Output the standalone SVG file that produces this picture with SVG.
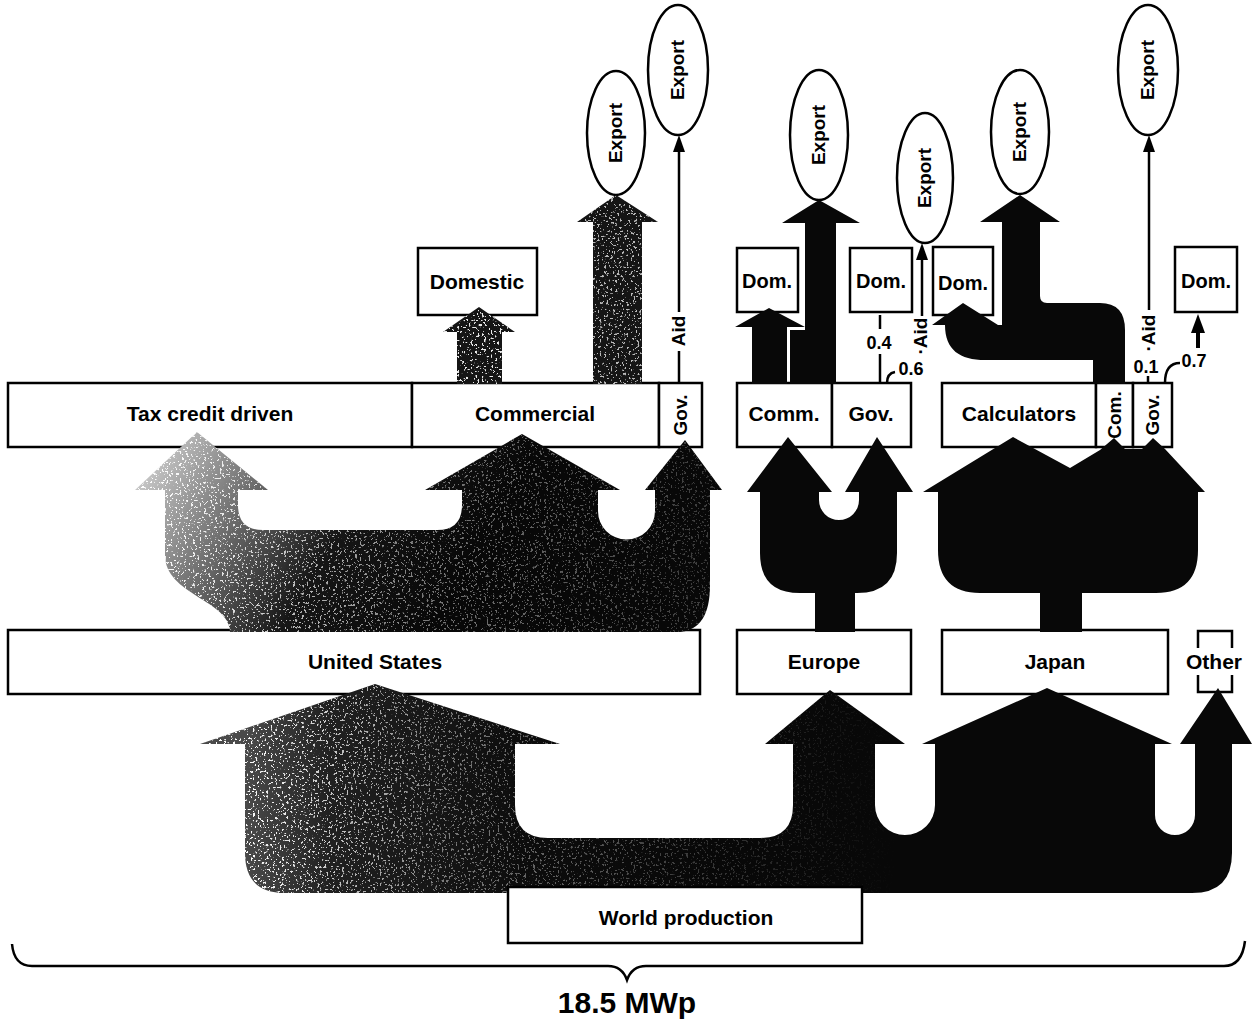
<svg xmlns="http://www.w3.org/2000/svg" xmlns:xlink="http://www.w3.org/1999/xlink" width="1254" height="1021" viewBox="0 0 1254 1021">
  <style>
    .box { fill: #fff; stroke: #000; stroke-width: 2.5; }
    .oval { fill: #fff; stroke: #000; stroke-width: 2.5; }
    .lbl { font-family: "Liberation Sans", Arial, Helvetica, sans-serif; font-weight: bold; font-size: 21px; text-anchor: middle; fill: #000; }
    .sm { font-size: 19px; }
    .dom { font-size: 20px; }
    .num { font-family: "Liberation Sans", Arial, Helvetica, sans-serif; font-weight: bold; font-size: 18px; text-anchor: middle; fill: #000; }
    .flow { fill: #080808; stroke: none; }
    .line { fill: none; stroke: #000; stroke-width: 2.5; }
    .head { fill: #000; stroke: none; }
    .total { font-family: "Liberation Sans", Arial, Helvetica, sans-serif; font-weight: bold; font-size: 30px; text-anchor: middle; fill: #000; }
  </style>
  <defs>
    <!-- flow outlines shared by the fill and the stipple layer -->
    <path id="shapeWorld" d="M200 744 L375 684 L560 744 L515 744 L515 805 Q515 838 548 838 L760 838 Q793 838 793 805 L793 744 L765 744 L830 690 L905 744 L875 744 L875 805 A30 30 0 0 0 935 805 L935 744 L922 744 L1047 688 L1172 744 L1155 744 L1155 815 A20 20 0 0 0 1195 815 L1195 744 L1180 744 L1218 688 L1252 744 L1232 744 L1232 853 Q1232 893 1192 893 L285 893 Q245 893 245 853 L245 744 Z"/>
    <path id="shapeUS" d="M230 632 C230 600 165 595 165 555 L165 490 L135 490 L197 432 L268 490 L238 490 L238 505 Q238 530 263 530 L437 530 Q462 530 462 505 L462 490 L425 490 L522 434 L620 490 L598 490 L598 511 A28.5 28.5 0 0 0 655 511 L655 490 L645 490 L685 440 L722 490 L710 490 L710 585 C710 615 700 630 680 632 Z"/>
    <path id="shapeUSDom" d="M457 384 L457 332 L443 332 L479 307 L515 332 L502 332 L502 384 Z"/>
    <path id="shapeUSExp" d="M593 384 L593 222 L577 222 L616 195 L658 222 L642 222 L642 384 Z"/>

    <!-- light-to-dark shading of the US flows -->
    <linearGradient id="usMidFill" gradientUnits="userSpaceOnUse" x1="150" y1="440" x2="440" y2="610">
      <stop offset="0" stop-color="#d2d2d2"/>
      <stop offset="0.3" stop-color="#767676"/>
      <stop offset="0.62" stop-color="#161616"/>
      <stop offset="1" stop-color="#080808"/>
    </linearGradient>
    <linearGradient id="worldFill" gradientUnits="userSpaceOnUse" x1="245" y1="0" x2="720" y2="0">
      <stop offset="0" stop-color="#4a4a4a"/>
      <stop offset="0.18" stop-color="#202020"/>
      <stop offset="0.6" stop-color="#0c0c0c"/>
      <stop offset="1" stop-color="#080808"/>
    </linearGradient>
    <linearGradient id="grainMid" gradientUnits="userSpaceOnUse" x1="140" y1="0" x2="720" y2="0">
      <stop offset="0" stop-color="#fff" stop-opacity="1"/>
      <stop offset="0.5" stop-color="#fff" stop-opacity="0.45"/>
      <stop offset="1" stop-color="#fff" stop-opacity="0.2"/>
    </linearGradient>
    <linearGradient id="grainWorld" gradientUnits="userSpaceOnUse" x1="245" y1="0" x2="900" y2="0">
      <stop offset="0" stop-color="#fff" stop-opacity="1"/>
      <stop offset="0.3" stop-color="#fff" stop-opacity="0.45"/>
      <stop offset="0.7" stop-color="#fff" stop-opacity="0.2"/>
      <stop offset="1" stop-color="#fff" stop-opacity="0"/>
    </linearGradient>
    <!-- printed stipple: white specks clipped to the shape's alpha -->
    <filter id="specks" x="0" y="0" width="1" height="1" color-interpolation-filters="sRGB">
      <feTurbulence type="fractalNoise" baseFrequency="0.45" numOctaves="2" seed="4" result="n"/>
      <feColorMatrix in="n" type="matrix" values="0 0 0 0 1  0 0 0 0 1  0 0 0 0 1  18 0 0 0 -11" result="s"/>
      <feComposite in="s" in2="SourceGraphic" operator="in"/>
    </filter>
  </defs>

  <!-- top row: sector boxes -->
  <g id="tax-credit"><rect class="box" x="8" y="383" width="404" height="64"/><text class="lbl" x="210" y="421">Tax credit driven</text></g>
  <g id="us-commercial"><rect class="box" x="412" y="383" width="247" height="64"/><text class="lbl" x="535" y="421">Commercial</text></g>
  <g id="us-gov"><rect class="box" x="659" y="383" width="43" height="64"/><text class="lbl sm" transform="translate(687 415) rotate(-90)">Gov.</text></g>
  <g id="eu-comm"><rect class="box" x="737" y="383" width="95" height="64"/><text class="lbl" x="784" y="421">Comm.</text></g>
  <g id="eu-gov"><rect class="box" x="832" y="383" width="79" height="64"/><text class="lbl" x="871" y="421">Gov.</text></g>
  <g id="calculators"><rect class="box" x="942" y="383" width="154" height="64"/><text class="lbl" x="1019" y="421">Calculators</text></g>
  <g id="jp-com"><rect class="box" x="1096" y="383" width="37" height="64"/><text class="lbl sm" transform="translate(1121 415) rotate(-90)">Com.</text></g>
  <g id="jp-gov"><rect class="box" x="1133" y="383" width="39" height="64"/><text class="lbl sm" transform="translate(1159 415) rotate(-90)">Gov.</text></g>

  <!-- regions -->
  <g id="united-states"><rect class="box" x="8" y="630" width="692" height="64"/><text class="lbl" x="375" y="669">United States</text></g>
  <g id="europe"><rect class="box" x="737" y="630" width="174" height="64"/><text class="lbl" x="824" y="669">Europe</text></g>
  <g id="japan"><rect class="box" x="942" y="630" width="226" height="64"/><text class="lbl" x="1055" y="669">Japan</text></g>
  <g id="other">
    <path class="line" d="M1198 648 L1198 631 L1232 631 L1232 648"/>
    <path class="line" d="M1198 675 L1198 692 L1232 692 L1232 675"/>
    <text class="lbl" x="1214" y="669">Other</text>
  </g>

  <!-- destinations -->
  <g id="domestic"><rect class="box" x="418" y="248" width="119" height="67"/><text class="lbl" x="477" y="289">Domestic</text></g>
  <g id="eu-comm-dom"><rect class="box" x="737" y="248" width="61" height="64"/><text class="lbl dom" x="767" y="288">Dom.</text></g>
  <g id="eu-gov-dom"><rect class="box" x="850" y="248" width="62" height="64"/><text class="lbl dom" x="881" y="288">Dom.</text></g>
  <g id="jp-calc-dom"><rect class="box" x="933" y="247" width="60" height="68"/><text class="lbl dom" x="963" y="290">Dom.</text></g>
  <g id="jp-gov-dom"><rect class="box" x="1175" y="247" width="62" height="65"/><text class="lbl dom" x="1206" y="288">Dom.</text></g>

  <g id="us-comm-export"><ellipse class="oval" cx="616" cy="133" rx="29" ry="62"/><text class="lbl sm" transform="translate(622 133) rotate(-90)">Export</text></g>
  <g id="us-aid-export"><ellipse class="oval" cx="678" cy="70" rx="30" ry="65"/><text class="lbl sm" transform="translate(684 70) rotate(-90)">Export</text></g>
  <g id="eu-comm-export"><ellipse class="oval" cx="819" cy="135" rx="29" ry="65"/><text class="lbl sm" transform="translate(825 135) rotate(-90)">Export</text></g>
  <g id="eu-aid-export"><ellipse class="oval" cx="925" cy="178" rx="28" ry="65"/><text class="lbl sm" transform="translate(931 178) rotate(-90)">Export</text></g>
  <g id="jp-calc-export"><ellipse class="oval" cx="1020" cy="132" rx="29" ry="62"/><text class="lbl sm" transform="translate(1026 132) rotate(-90)">Export</text></g>
  <g id="jp-aid-export"><ellipse class="oval" cx="1148" cy="70" rx="30" ry="65"/><text class="lbl sm" transform="translate(1154 70) rotate(-90)">Export</text></g>

  <!-- flows -->
  <g id="connectors">
    <use xlink:href="#shapeWorld" href="#shapeWorld" fill="url(#worldFill)"/>
    <use xlink:href="#shapeWorld" href="#shapeWorld" fill="url(#grainWorld)" filter="url(#specks)"/>

    <use xlink:href="#shapeUS" href="#shapeUS" fill="url(#usMidFill)"/>
    <use xlink:href="#shapeUS" href="#shapeUS" fill="url(#grainMid)" filter="url(#specks)"/>

    <path class="flow" d="M815 632 L815 593 L800 593 Q760 593 760 553 L760 492 L747 492 L788 437 L832 492 L819 492 L819 500 A20 20 0 0 0 859 500 L859 492 L845 492 L877 437 L913 492 L897 492 L897 553 Q897 593 857 593 L855 593 L855 632 Z"/>
    <path class="flow" d="M1040 632 L1040 593 L980 593 Q938 593 938 550 L938 492 L923 492 L1013 437 L1070 468 L1100 450 L1114 438 L1125 449 L1142 449 L1153 438 L1165 449 L1205 492 L1198 492 L1198 550 Q1198 593 1156 593 L1082 593 L1082 632 Z"/>

    <use xlink:href="#shapeUSDom" href="#shapeUSDom" fill="#151515"/>
    <use xlink:href="#shapeUSExp" href="#shapeUSExp" fill="#151515"/>
    <use xlink:href="#shapeUSDom" href="#shapeUSDom" fill="#fff" fill-opacity="0.9" filter="url(#specks)"/>
    <use xlink:href="#shapeUSExp" href="#shapeUSExp" fill="#fff" fill-opacity="0.7" filter="url(#specks)"/>

    <path class="flow" d="M752 384 L752 327 L735 327 L769 308 L805 327 L787 327 L787 384 Z"/>
    <path class="flow" d="M790 384 L790 330 L805 330 L805 223 L782 223 L819 200 L860 223 L836 223 L836 384 Z"/>

    <path class="flow" d="M1093 384 L1093 360 L985 360 C960 360 945 350 945 325 L932 325 L963 303 L998 325 L1002 325 L1002 222 L980 222 L1020 195 L1060 222 L1040 222 L1040 296 Q1040 303 1047 303 L1100 303 Q1125 303 1125 330 L1125 384 Z"/>

    <!-- aid and domestic shares -->
    <path class="line" d="M679 383 L679 351"/>
    <path class="line" d="M679 312 L679 148"/>
    <path class="head" d="M673 152 L679 135 L685 152 Z"/>
    <text class="lbl sm" transform="translate(685 331) rotate(-90)">Aid</text>

    <path class="line" d="M880 315 L880 329"/>
    <path class="line" d="M880 354 L880 383"/>
    <text class="num" x="879" y="349">0.4</text>
    <path class="line" d="M887 383 C887 377 889 373 895 372"/>
    <text class="num" x="911" y="375">0.6</text>
    <path class="line" d="M922 316 L922 256"/>
    <path class="head" d="M916 260 L922 243 L928 260 Z"/>
    <text class="lbl sm" transform="translate(927 336) rotate(-90)">·Aid</text>

    <path class="line" d="M1149 310 L1149 148"/>
    <path class="head" d="M1143 152 L1149 135 L1155 152 Z"/>
    <text class="lbl sm" transform="translate(1155 333) rotate(-90)">·Aid</text>
    <text class="num" x="1146" y="373">0.1</text>
    <path class="line" d="M1148 376 L1148 383"/>
    <path class="line" d="M1165 383 C1165 370 1170 363 1180 363"/>
    <text class="num" x="1194" y="367">0.7</text>
    <path d="M1198 348 L1198 330" stroke="#000" stroke-width="4"/>
    <path class="head" d="M1191 333 L1198 314 L1205 333 Z"/>
  </g>

  <g id="world-production"><rect class="box" x="508" y="887" width="354" height="56"/><text class="lbl" x="686" y="925">World production</text></g>

  <!-- total bracket -->
  <g id="total">
    <path class="line" d="M12 944 Q14 966 32 966 L608 966 Q622 966 627 980 Q632 966 646 966 L1224 966 Q1242 966 1245 941"/>
    <text class="total" x="627" y="1013">18.5 MWp</text>
  </g>
</svg>
